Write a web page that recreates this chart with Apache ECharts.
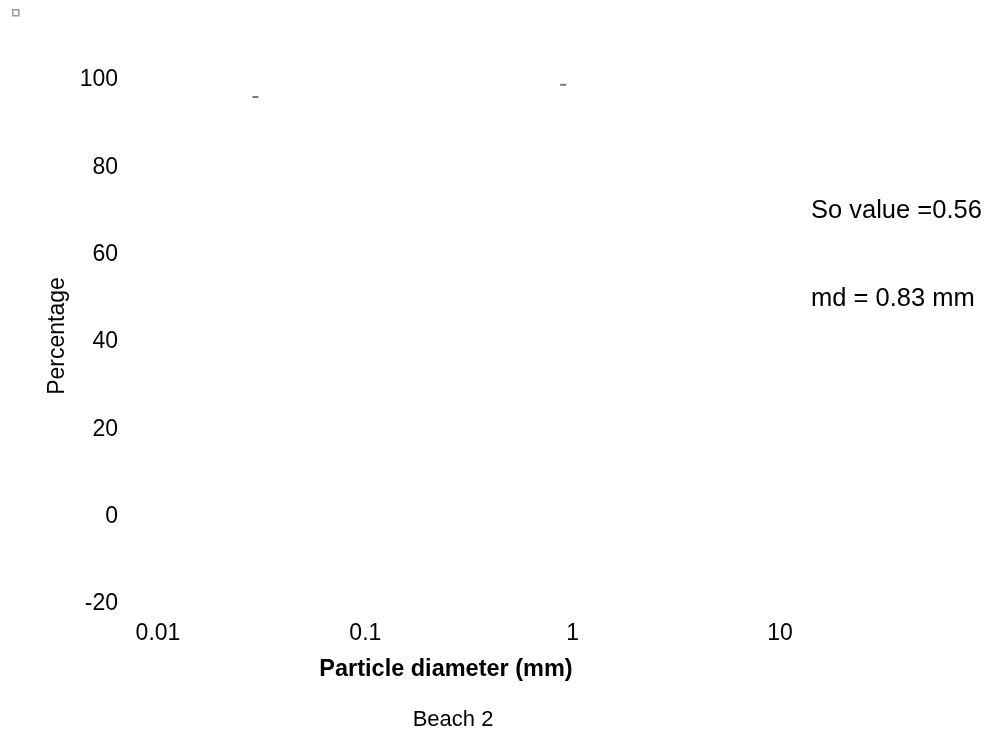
<!DOCTYPE html>
<html>
<head>
<meta charset="utf-8">
<script src="https://cdn.jsdelivr.net/npm/echarts@6/dist/echarts.min.js"></script>
<style>
html,body{margin:0;padding:0;background:#fff;}
#chart{width:991px;height:740px;}
</style>
</head>
<body>
<div id="chart"></div>
<script>
// Data
const xTicks = [0.01, 0.1, 1, 10];
const yTicks = [-20, 0, 20, 40, 60, 80, 100];
const markPoints = [[0.0295, 96.1], [0.9, 98.9]];
const annotations = ['So value =0.56', 'md = 0.83 mm'];
const chartTitle = 'Beach 2';
const xTitle = 'Particle diameter (mm)';
const yTitle = 'Percentage';

const FONT = '"Liberation Sans", Arial, sans-serif';
const chart = echarts.init(document.getElementById('chart'));
chart.setOption({
  animation: false,
  backgroundColor: '#fff',
  title: {
    text: chartTitle,
    left: 448, top: 704, textAlign: 'center',
    textStyle: {fontFamily: FONT, fontSize: 22, fontWeight: 'normal', color: '#000'}
  },
  grid: {left: 158, right: 211, top: 80, bottom: 136},
  xAxis: {
    type: 'log', logBase: 10, min: xTicks[0], max: xTicks[xTicks.length - 1],
    axisLine: {show: false}, axisTick: {show: false}, splitLine: {show: false}, minorSplitLine: {show: false},
    axisLabel: {
      fontFamily: FONT, fontSize: 23, color: '#000', margin: 18,
      formatter: v => { const f = xTicks.find(t => Math.abs(t - v) / t < 1e-6); return f === undefined ? '' : String(f); }
    },
    name: xTitle, nameLocation: 'middle', nameGap: 54,
    nameTextStyle: {fontFamily: FONT, fontSize: 23.5, fontWeight: 'bold', color: '#000', padding: [0, 46, 0, 0]}
  },
  yAxis: {
    type: 'value', min: yTicks[0], max: yTicks[yTicks.length - 1], interval: 20,
    axisLine: {show: false}, axisTick: {show: false}, splitLine: {show: false},
    axisLabel: {fontFamily: FONT, fontSize: 23, color: '#000', margin: 40},
    name: yTitle, nameLocation: 'middle', nameGap: 86, nameRotate: 90,
    nameTextStyle: {fontFamily: FONT, fontSize: 23, color: '#000', padding: [0, 0, 0, 12]}
  },
  graphic: [
    {type: 'rect', left: 12, top: 9, shape: {width: 6, height: 6}, style: {fill: '#fff', stroke: '#999', lineWidth: 1.5}},
    {type: 'text', left: 811, top: 198, style: {text: annotations[0], font: '25.5px ' + FONT, fill: '#000'}},
    {type: 'text', left: 811, top: 286, style: {text: annotations[1], font: '25.5px ' + FONT, fill: '#000'}}
  ],
  series: [{
    type: 'scatter', data: markPoints, symbol: 'rect', symbolSize: [6, 2],
    itemStyle: {color: '#555'}, silent: true
  }]
});
</script>
</body>
</html>
